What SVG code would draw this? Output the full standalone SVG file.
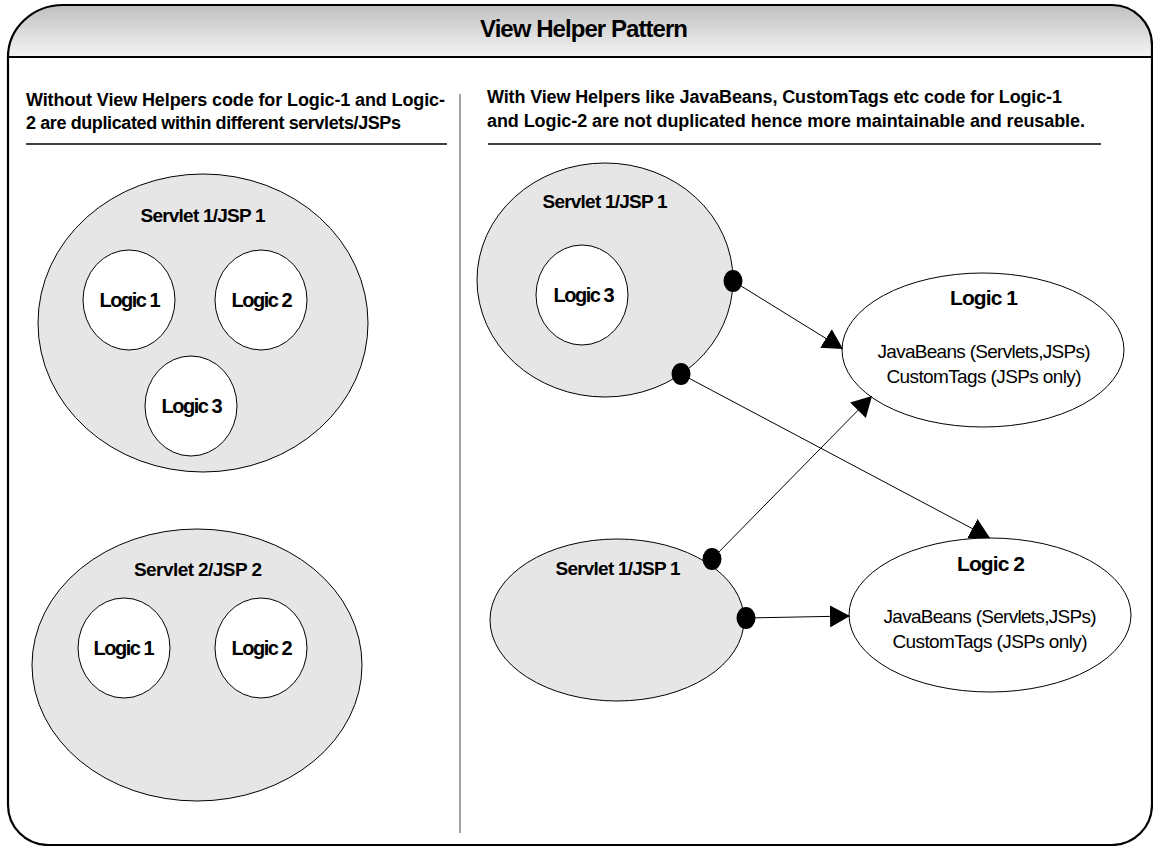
<svg xmlns="http://www.w3.org/2000/svg" width="1153" height="846" viewBox="0 0 1153 846">
<defs>
<linearGradient id="hdr" x1="0" y1="0" x2="0" y2="1">
<stop offset="0" stop-color="#c0c0c0"/>
<stop offset="1" stop-color="#f4f4f4"/>
</linearGradient>
<marker id="arr" markerUnits="userSpaceOnUse" markerWidth="20" markerHeight="22" refX="20" refY="11" orient="auto" viewBox="0 0 20 22">
<path d="M0,0 L20,11 L0,22 z" fill="#000"/>
</marker>
</defs>
<style>
text{font-family:"Liberation Sans",Arial,Helvetica,sans-serif;fill:#000}
.title{font-size:24px;font-weight:bold}
.head{font-size:18px;font-weight:bold}
.srv{font-size:19px;font-weight:bold}
.lg{font-size:20px;font-weight:bold}
.lgb{font-size:21px;font-weight:bold}
.desc{font-size:19px}
.big{fill:#e6e6e6;stroke:#000;stroke-width:1}
.wht{fill:#fff;stroke:#000;stroke-width:1}
.dot{fill:#000}
.conn{stroke:#000;stroke-width:1;fill:none;marker-end:url(#arr)}
.rule{stroke:#000;stroke-width:1.3}
</style>
<rect width="1153" height="846" fill="#fff"/>
<g id="frame">
<path d="M8,57 A55,52 0 0 1 63,5 L1112,5 A40,40 0 0 1 1152,45 L1152,57 Z" fill="url(#hdr)"/>
<path d="M8,57 A55,52 0 0 1 63,5 L1112,5 A40,40 0 0 1 1152,45 L1152,805 A40,40 0 0 1 1112,845 L48,845 A40,40 0 0 1 8,805 Z" fill="none" stroke="#000" stroke-width="2.2"/>
<line x1="8" y1="57" x2="1152" y2="57" stroke="#000" stroke-width="2.2"/>
<text class="title" x="480" y="37" textLength="208">View Helper Pattern</text>
<line x1="460" y1="94" x2="460" y2="833" stroke="#444" stroke-width="1"/>
</g>
<g id="left-heading">
<text class="head" x="26" y="106" textLength="419">Without View Helpers code for Logic-1 and Logic-</text>
<text class="head" x="26" y="129" textLength="375">2 are duplicated within different servlets/JSPs</text>
<line class="rule" x1="26" y1="144" x2="447" y2="144"/>
</g>
<g id="right-heading">
<text class="head" x="487" y="103" textLength="575">With View Helpers like JavaBeans, CustomTags etc code for Logic-1</text>
<text class="head" x="487" y="127" textLength="598">and Logic-2 are not duplicated hence more maintainable and reusable.</text>
<line class="rule" x1="488" y1="144" x2="1101" y2="144"/>
</g>
<g id="left-servlet1">
<ellipse class="big" cx="203" cy="323" rx="165" ry="149"/>
<text class="srv" x="203" y="222" text-anchor="middle" textLength="125">Servlet 1/JSP 1</text>
</g>
<g id="left-s1-logic1">
<ellipse class="wht" cx="129" cy="300" rx="46" ry="50"/>
<text class="lg" x="130" y="307" text-anchor="middle" textLength="61">Logic 1</text>
</g>
<g id="left-s1-logic2">
<ellipse class="wht" cx="261" cy="300" rx="46" ry="50"/>
<text class="lg" x="262" y="307" text-anchor="middle" textLength="61">Logic 2</text>
</g>
<g id="left-s1-logic3">
<ellipse class="wht" cx="191" cy="406" rx="46" ry="50"/>
<text class="lg" x="192" y="413" text-anchor="middle" textLength="61">Logic 3</text>
</g>
<g id="left-servlet2">
<ellipse class="big" cx="197" cy="665" rx="165" ry="136"/>
<text class="srv" x="198" y="576" text-anchor="middle" textLength="128">Servlet 2/JSP 2</text>
</g>
<g id="left-s2-logic1">
<ellipse class="wht" cx="124" cy="648" rx="46" ry="50"/>
<text class="lg" x="124" y="655" text-anchor="middle" textLength="61">Logic 1</text>
</g>
<g id="left-s2-logic2">
<ellipse class="wht" cx="261" cy="648" rx="46" ry="50"/>
<text class="lg" x="262" y="655" text-anchor="middle" textLength="61">Logic 2</text>
</g>
<g id="right-servlet1-top">
<ellipse class="big" cx="605" cy="280" rx="128" ry="117"/>
<text class="srv" x="605" y="208" text-anchor="middle" textLength="125">Servlet 1/JSP 1</text>
</g>
<g id="right-logic3">
<ellipse class="wht" cx="582" cy="295" rx="46" ry="50"/>
<text class="lg" x="584" y="302" text-anchor="middle" textLength="61">Logic 3</text>
</g>
<g id="right-servlet1-bottom">
<ellipse class="big" cx="617" cy="620" rx="127" ry="81"/>
<text class="srv" x="618" y="575" text-anchor="middle" textLength="125">Servlet 1/JSP 1</text>
</g>
<g id="logic1">
<ellipse class="wht" cx="983" cy="350" rx="141" ry="77"/>
<text class="lgb" x="984" y="305" text-anchor="middle" textLength="68">Logic 1</text>
<text class="desc" x="984" y="358" text-anchor="middle" textLength="213">JavaBeans (Servlets,JSPs)</text>
<text class="desc" x="984" y="383" text-anchor="middle" textLength="195">CustomTags (JSPs only)</text>
</g>
<g id="logic2">
<ellipse class="wht" cx="990" cy="615" rx="141" ry="77"/>
<text class="lgb" x="991" y="571" text-anchor="middle" textLength="68">Logic 2</text>
<text class="desc" x="990" y="623" text-anchor="middle" textLength="213">JavaBeans (Servlets,JSPs)</text>
<text class="desc" x="990" y="648" text-anchor="middle" textLength="195">CustomTags (JSPs only)</text>
</g>
<g id="connectors">
<line class="conn" x1="733" y1="281" x2="843" y2="349"/>
<line class="conn" x1="681" y1="374" x2="990" y2="538"/>
<line class="conn" x1="712" y1="559" x2="872" y2="396"/>
<line class="conn" x1="746" y1="618" x2="850" y2="616"/>
<ellipse class="dot" cx="733" cy="281" rx="9.5" ry="11"/>
<ellipse class="dot" cx="681" cy="374" rx="9.5" ry="11"/>
<ellipse class="dot" cx="712" cy="559" rx="9.5" ry="11"/>
<ellipse class="dot" cx="746" cy="618" rx="9.5" ry="11"/>
</g>
</svg>
